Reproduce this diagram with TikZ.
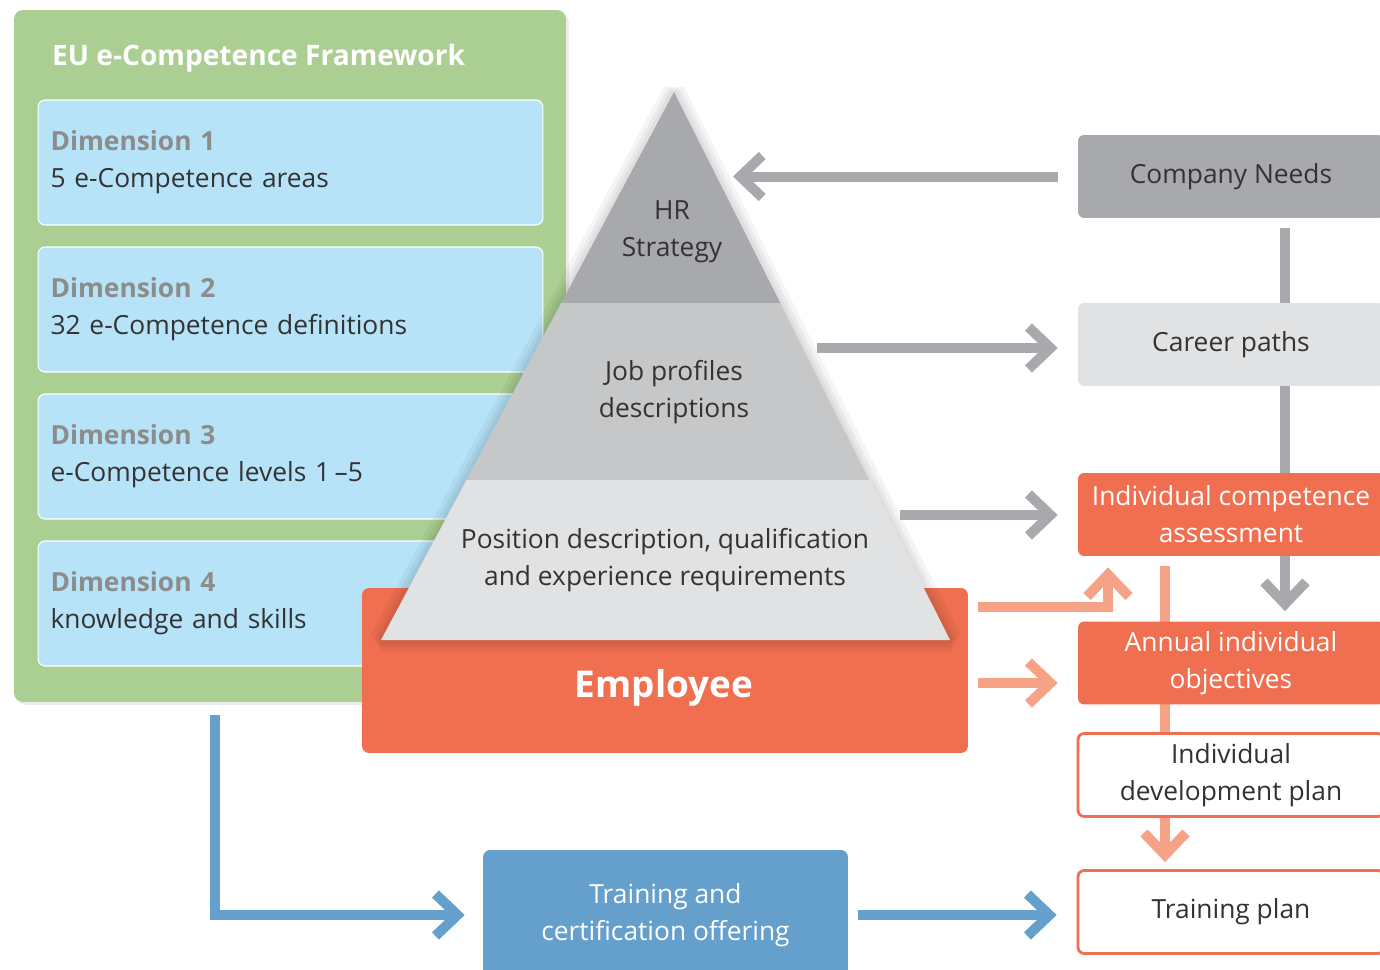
\documentclass[tikz,border=0pt]{standalone}
\usepackage{fontspec}
\setmainfont{Open Sans}
\usetikzlibrary{arrows.meta,positioning,calc,shadows,backgrounds}
\definecolor{fwgreen}{HTML}{ABCF93}
\definecolor{dimblue}{HTML}{B7E3F8}
\definecolor{dimgrey}{HTML}{8C8C8C}
\definecolor{darkgrey}{HTML}{A7A9AC}
\definecolor{midgrey}{HTML}{C6C7C9}
\definecolor{lightgrey}{HTML}{E1E2E3}
\definecolor{empred}{HTML}{F06F50}
\definecolor{salmon}{HTML}{F5A286}
\definecolor{offerblue}{HTML}{659FCB}
\definecolor{txt}{HTML}{333333}
\tikzset{
    bodyfont/.style={font=\fontsize{15}{21}\selectfont},
    dimbox/.style={fill=dimblue, draw=white, line width=0.6pt, rounded corners=4pt,
            minimum width=10.1cm, minimum height=2.5cm, text width=9.6cm,
            align=left, bodyfont, text=txt, inner xsep=0.25cm},
    sidebox/.style={rounded corners=3.5pt, minimum width=6.12cm, minimum height=1.66cm,
            align=center, bodyfont, text=txt},
    layertext/.style={align=center, bodyfont, text=txt},
    bigarrow/.style={line width=0.2cm, -{Straight Barb[length=0.44cm, width=0.84cm]}},
    greyarrow/.style={bigarrow, darkgrey},
    salmonarrow/.style={bigarrow, salmon},
    bluearrow/.style={bigarrow, offerblue},
}

\begin{document}
\begin{tikzpicture}[x=0.02cm, y=-0.02cm]
        \clip (0,0) rectangle (1380,970);
        %framework and its four dimensions
        \node[fill=fwgreen, rounded corners=5pt, minimum width=11.04cm, minimum height=13.84cm,
            drop shadow={opacity=0.15, shadow xshift=0.06cm, shadow yshift=-0.06cm}] (framework) at (290,356) {};
        \node[anchor=west, text=white, font=\fontsize{16}{20}\selectfont\bfseries] (fwtitle) at (46,58) {EU e-Competence Framework};
        \node[dimbox] (dim1) at (290.5,162.5) {\textcolor{dimgrey}{\bfseries Dimension 1}\\5 e-Competence areas};
        \node[dimbox] (dim2) at (290.5,309.5) {\textcolor{dimgrey}{\bfseries Dimension 2}\\32 e-Competence definitions};
        \node[dimbox] (dim3) at (290.5,456.5) {\textcolor{dimgrey}{\bfseries Dimension 3}\\e-Competence levels 1\,--5};
        \node[dimbox] (dim4) at (290.5,603.5) {\textcolor{dimgrey}{\bfseries Dimension 4}\\knowledge and skills};
        %employee
        \node[fill=empred, rounded corners=4pt, minimum width=12.12cm, minimum height=3.3cm] (employee) at (665,670.5) {};
        \node[text=white, font=\fontsize{21}{25}\selectfont\bfseries] (emplabel) at (664,688) {Employee};
        %pyramid
        \coordinate (apex) at (674,92);
        \coordinate (bl) at (381,640);
        \coordinate (br) at (950,640);
        \coordinate (l1) at (561.2,303);
        \coordinate (r1) at (780.3,303);
        \coordinate (l2) at (466.5,480);
        \coordinate (r2) at (869.4,480);
        \foreach \w in {13,8,4}
            \draw[black, opacity=0.045, line width=\w pt, line join=bevel] (apex) -- (br) -- (bl) -- cycle;
        \fill[darkgrey] (apex) -- (r1) -- (l1) -- cycle;
        \fill[midgrey] (l1) -- (r1) -- (r2) -- (l2) -- cycle;
        \fill[lightgrey] (l2) -- (r2) -- (br) -- (bl) -- cycle;
        \node[layertext] (hrtext) at (672,232) {HR\\Strategy};
        \node[layertext] (jobtext) at (674,392) {Job profiles\\descriptions};
        \node[layertext] (postext) at (665,560) {Position description, qualification\\and experience requirements};
        %right column
        \node[sidebox, fill=darkgrey] (company) at (1231,176.5) {Company Needs};
        \node[sidebox, fill=lightgrey] (career) at (1231,344.5) {Career paths};
        \node[sidebox, fill=empred, text=white] (competence) at (1231,514.5) {Individual competence\\assessment};
        \node[sidebox, fill=empred, text=white] (annual) at (1231,663) {Annual individual\\objectives};
        \node[sidebox, fill=white, draw=empred, line width=1.6pt] (devplan) at (1231,775) {Individual\\development plan};
        \node[sidebox, fill=white, draw=empred, line width=1.6pt] (training) at (1231,912) {Training plan};
        %training offering
        \node[fill=offerblue, rounded corners=4pt, minimum width=7.3cm, minimum height=2.6cm,
            align=center, text=white, bodyfont] (offering) at (665.5,915) {Training and\\certification offering};
        %vertical arrows behind the right column
        \begin{pgfonlayer}{background}
            \draw[greyarrow, shorten <=0.2cm, shorten >=0.2cm] ([xshift=1.08cm]company.south) -- ([xshift=1.08cm]annual.north);
            \draw[salmonarrow, shorten <=0.2cm, shorten >=0.14cm] ([xshift=-1.32cm]competence.south) -- ([xshift=-1.32cm]training.north);
        \end{pgfonlayer}
        %grey arrows
        \coordinate (hrtip) at (733,181);
        \coordinate (jobedge) at (817,348);
        \coordinate (posedge) at (900,515);
        \draw[greyarrow, shorten <=0.4cm] (company.west) -- (company.west -| hrtip);
        \draw[greyarrow, shorten >=0.4cm] (jobedge) -- (jobedge -| career.west);
        \draw[greyarrow, shorten >=0.4cm] (posedge) -- (posedge -| competence.west);
        %salmon arrows
        \draw[salmonarrow, shorten <=0.2cm, shorten >=0.22cm] ([yshift=1.27cm]employee.east) -| ([xshift=-2.46cm]competence.south);
        \draw[salmonarrow, shorten <=0.2cm, shorten >=0.4cm] ([yshift=-0.25cm]employee.east) -- ([yshift=-0.25cm]employee.east -| annual.west);
        %blue arrows
        \draw[bluearrow, shorten <=0.26cm, shorten >=0.36cm] ([xshift=-1.5cm]framework.south) |- (offering.west);
        \draw[bluearrow, shorten <=0.2cm, shorten >=0.4cm] (offering.east) -- (offering.east -| training.west);
    \end{tikzpicture}
\end{document}
